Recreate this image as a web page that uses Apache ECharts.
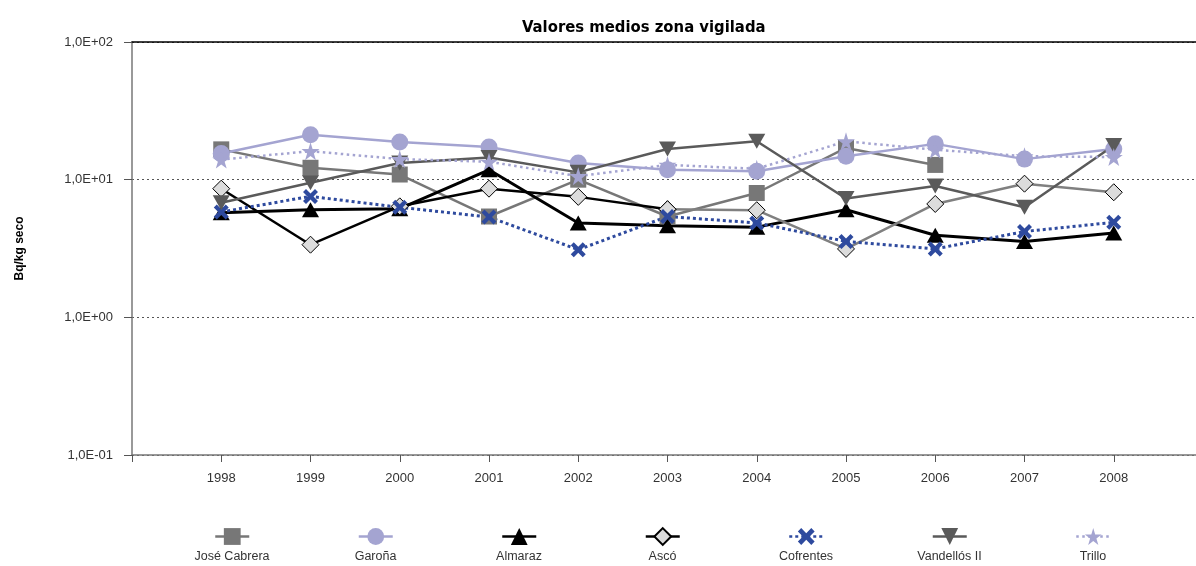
<!DOCTYPE html>
<html>
<head>
<meta charset="utf-8">
<script src="https://cdn.jsdelivr.net/npm/echarts@6/dist/echarts.min.js"></script>
<style>
  html, body { margin: 0; padding: 0; background: #fff; }
  #chart { width: 1196px; height: 566px; }
</style>
</head>
<body>
<div id="chart"></div>
<script>
// datos (Bq/kg seco)
const years = [1998, 1999, 2000, 2001, 2002, 2003, 2004, 2005, 2006, 2007, 2008];
const joseCabrera = [16.6, 12.2, 10.9, 5.4, 10.0, 5.4, 8.0, 17.0, 12.8, null, null];
const garona = [15.5, 21.2, 18.8, 17.3, 13.2, 11.8, 11.5, 14.8, 18.2, 14.1, 16.7];
const almaraz = [5.75, 6.05, 6.15, 11.8, 4.85, 4.63, 4.52, 6.05, 3.95, 3.56, 4.1];
const asco = [8.6, 3.37, 6.4, 8.6, 7.5, 6.1, 6.0, 3.14, 6.66, 9.35, 8.1];
const cofrentes = [5.83, 7.56, 6.3, 5.35, 3.1, 5.4, 4.85, 3.56, 3.14, 4.2, 4.9];
const vandellos = [6.8, 9.5, 13.2, 14.5, 11.3, 16.7, 19.0, 7.3, 9.0, 6.3, 17.7];
const trillo = [14.0, 16.1, 14.1, 13.5, 10.6, 12.8, 12.0, 19.0, 16.5, 14.8, 14.6];
const names = ['José Cabrera', 'Garoña', 'Almaraz', 'Ascó', 'Cofrentes', 'Vandellós II', 'Trillo'];
const yTicks = [0.1, 1, 10, 100];

const font = "'Liberation Sans', Arial, sans-serif";
const xMin = 1997, xMax = 2009;

function pairs(vals, from, to) {
  const out = [];
  for (let i = from; i <= to; i++) out.push([years[i], vals[i]]);
  return out;
}

const xPath = 'path://M2,0 L5,3 L8,0 L10,2 L7,5 L10,8 L8,10 L5,7 L2,10 L0,8 L3,5 L0,2 Z';
const starPath = 'path://M50,0 L61,35 L98,35 L68,57 L79,91 L50,70 L21,91 L32,57 L2,35 L39,35 Z';
const triDown = 'path://M0,0 L10,0 L5,9 Z';

function serie(name, data, color, symbol, size, lineType, width, item) {
  return {
    name: name,
    type: 'line',
    data: data,
    symbol: symbol,
    symbolSize: size,
    connectNulls: false,
    lineStyle: { color: color, width: width, type: lineType },
    itemStyle: item || { color: color },
    emphasis: { disabled: true },
    animation: false
  };
}

const ascoItem = { color: '#dcdcdc', borderColor: '#000', borderWidth: 1 };

const series = [
  serie(names[0], pairs(joseCabrera, 0, 10), '#777777', 'rect', 16, 'solid', 2.5),
  serie(names[1], pairs(garona, 0, 10), '#a4a4d1', 'circle', 17, 'solid', 2.5),
  serie(names[2], pairs(almaraz, 0, 10), '#000000', 'triangle', [17, 15], 'solid', 3),
  serie(names[3], pairs(asco, 0, 5), '#000000', 'diamond', 17, 'solid', 2.5, ascoItem),
  serie(names[3], pairs(asco, 5, 10), '#808080', 'diamond', 17, 'solid', 2.5, ascoItem),
  serie(names[4], pairs(cofrentes, 0, 10), '#2e4a9e', xPath, 15, [3, 3], 3),
  serie(names[5], pairs(vandellos, 0, 10), '#5a5a5a', triDown, [17, 15], 'solid', 2.5),
  serie(names[6], pairs(trillo, 0, 10), '#a4a4d1', starPath, 18, [2.5, 3.5], 2.5)
];

// centros de la leyenda
const legendX0 = 232, legendStep = 143.5, legendW = 34;
const legendTexts = names.map(function (n, i) {
  return {
    type: 'text',
    x: legendX0 + i * legendStep,
    y: 557,
    style: { text: n, fontSize: 12.5, fontFamily: font, fill: '#333', align: 'center', verticalAlign: 'middle' }
  };
});

const chart = echarts.init(document.getElementById('chart'));
chart.setOption({
  backgroundColor: '#fff',
  title: {
    text: 'Valores medios zona vigilada',
    left: 517,
    top: 14,
    textStyle: { fontSize: 16.5, fontWeight: 'bold', color: '#000', fontFamily: "'Liberation Sans Narrow', 'DejaVu Sans Condensed', sans-serif" }
  },
  grid: { left: 132, right: -7, top: 42, bottom: 111, outerBoundsMode: 'none' },
  legend: {
    data: names,
    left: legendX0 - legendW / 2 - 6,
    top: 521,
    itemWidth: legendW,
    itemHeight: 21,
    itemGap: legendStep - legendW - 2.5,
    lineStyle: { width: 2.5 },
    formatter: function () { return ''; },
    selectedMode: false
  },
  graphic: legendTexts,
  xAxis: [
    {
      type: 'value',
      min: xMin,
      max: xMax,
      interval: 1,
      axisLine: { show: true, lineStyle: { color: '#777', width: 1.5 } },
      axisTick: { show: true, length: 7, lineStyle: { color: '#555' } },
      axisLabel: {
        color: '#333', fontSize: 13, fontFamily: font, margin: 17,
        formatter: function (v) { return (v >= years[0] && v <= years[years.length - 1]) ? String(v) : ''; }
      },
      splitLine: { show: false }
    },
    {
      type: 'value',
      position: 'top',
      min: xMin,
      max: xMax,
      axisLine: { show: true, lineStyle: { color: '#000', width: 1.5 } },
      axisTick: { show: false },
      axisLabel: { show: false },
      splitLine: { show: false }
    }
  ],
  yAxis: {
    type: 'log',
    logBase: 10,
    min: yTicks[0],
    max: yTicks[yTicks.length - 1],
    name: 'Bq/kg seco',
    nameLocation: 'middle',
    nameRotate: 90,
    nameGap: 106,
    nameTextStyle: { fontWeight: 'bold', fontSize: 12, color: '#000', fontFamily: font },
    axisLine: { show: true, lineStyle: { color: '#777', width: 1.5 } },
    axisTick: { show: true, length: 8, lineStyle: { color: '#555' } },
    axisLabel: {
      color: '#333', fontSize: 13, fontFamily: font, margin: 19,
      formatter: function (v) {
        const e = Math.round(Math.log10(v));
        return '1,0E' + (e < 0 ? '-' : '+') + String(Math.abs(e)).padStart(2, '0');
      }
    },
    splitLine: { show: true, lineStyle: { color: '#555', width: 1, type: [2, 3] } }
  },
  series: series
});
</script>
</body>
</html>
